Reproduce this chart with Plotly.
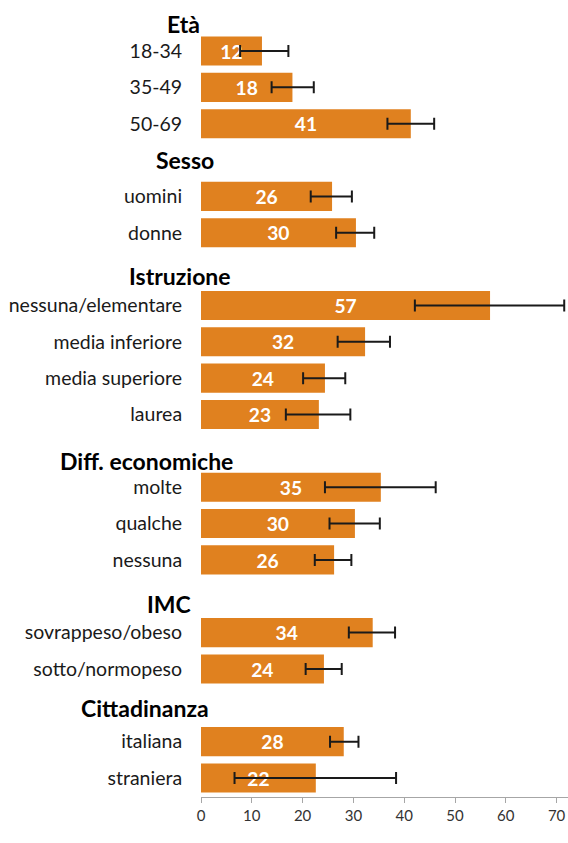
import plotly.graph_objects as go

# ---- data ----
groups = ["Età", "Sesso", "Istruzione", "Diff. economiche", "IMC", "Cittadinanza"]
group_rows = [
    ["18-34", "35-49", "50-69"],
    ["uomini", "donne"],
    ["nessuna/elementare", "media inferiore", "media superiore", "laurea"],
    ["molte", "qualche", "nessuna"],
    ["sovrappeso/obeso", "sotto/normopeso"],
    ["italiana", "straniera"],
]
values = [12.0, 18.0, 41.3, 25.8, 30.5, 56.9, 32.3, 24.4, 23.2, 35.4, 30.3, 26.2, 33.8, 24.2, 28.1, 22.6]
ci_low = [7.7, 13.9, 36.7, 21.6, 26.6, 42.1, 26.9, 20.1, 16.7, 24.4, 25.3, 22.4, 29.1, 20.6, 25.4, 6.6]
ci_high = [17.2, 22.2, 45.9, 29.7, 34.1, 71.5, 37.2, 28.4, 29.4, 46.2, 35.2, 29.6, 38.2, 27.7, 31.0, 38.4]
labels_txt = ["12", "18", "41", "26", "30", "57", "32", "24", "23", "35", "30", "26", "34", "24", "28", "22"]
x_ticks = [0, 10, 20, 30, 40, 50, 60, 70]

# header styling (layout only)
header_dy = [0.26, 0.0, 0.19, 0.28, 0.21, 0.07]
header_xc = [183, 185, 180, 146, 169, 145]

# ---- layout of slots ----
row_names, row_pos, header_pos = [], [], []
slot = -1
for g, rows in zip(groups, group_rows):
    header_pos.append(slot)
    slot += 1
    for r in rows:
        row_names.append(r)
        row_pos.append(slot)
        slot += 1

W, H = 568, 843
L, B = 201, 46
plot_w = W - L
plot_h = H - B

fig = go.Figure()
fig.add_trace(go.Bar(
    x=values, y=row_pos, orientation="h", width=0.8,
    marker=dict(color="#E0811F", line=dict(width=0)),
    text=labels_txt, textposition="inside", insidetextanchor="middle", textangle=0,
    textfont=dict(family="Lato", size=20, color="white", weight="bold"),
    error_x=dict(type="data", symmetric=False,
                 array=[h - v for h, v in zip(ci_high, values)],
                 arrayminus=[v - l for v, l in zip(values, ci_low)],
                 color="#1a1a1a", thickness=2, width=6),
    hoverinfo="skip",
))

annotations = []
for g, hp, dy, xc in zip(groups, header_pos, header_dy, header_xc):
    annotations.append(dict(
        text="<b>%s</b>" % g, x=(xc - L) / plot_w, xref="paper", xanchor="center",
        y=hp + dy, yref="y", yanchor="middle", showarrow=False,
        font=dict(family="Lato", size=23, color="black"),
    ))
annotations.append(dict(
    text="<b>%</b>", x=(152 - L) / plot_w, xref="paper", xanchor="center",
    y=-(838 - plot_h) / plot_h, yref="paper", yanchor="top", showarrow=False,
    font=dict(family="Lato", size=21, color="black"),
))

fig.update_layout(
    width=W, height=H,
    margin=dict(l=L, r=0, t=0, b=B, pad=0),
    paper_bgcolor="white", plot_bgcolor="white",
    showlegend=False,
    annotations=annotations,
    xaxis=dict(range=[0, plot_w / 5.08], tickvals=x_ticks, showgrid=False, zeroline=False,
               showline=True, linecolor="#A6A6A6", linewidth=1,
               ticks="outside", ticklen=5, tickcolor="#A6A6A6", automargin=False,
               tickfont=dict(family="Lato", size=15, color="#333333")),
    yaxis=dict(range=[20 + 19 / 36.35, -51 / 36.35], tickvals=row_pos, ticktext=row_names,
               showgrid=False, zeroline=False, showline=False, automargin=False,
               ticks="outside", ticklen=14, tickcolor="rgba(0,0,0,0)",
               tickfont=dict(family="Lato", size=19.5, color="#1a1a1a")),
)

fig.write_html("out.html", config={"displayModeBar": False},
               post_script="document.body.style.margin='0';document.body.style.overflow='hidden';")
